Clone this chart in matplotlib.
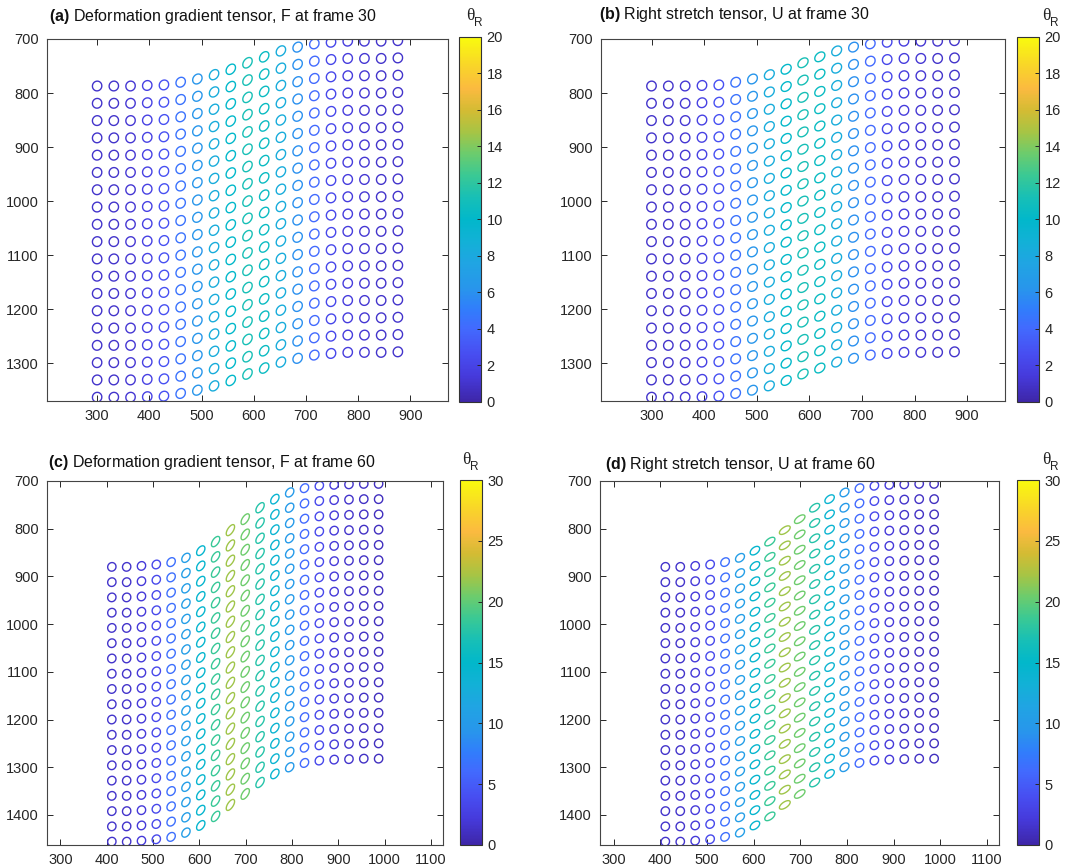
import numpy as np
import matplotlib
matplotlib.use('Agg')
import matplotlib.pyplot as plt
from matplotlib.collections import LineCollection
from matplotlib.colors import LinearSegmentedColormap, Normalize
from matplotlib.cm import ScalarMappable

plt.rcParams['font.family'] = 'Liberation Sans'
plt.rcParams['mathtext.fontset'] = 'custom'
plt.rcParams['mathtext.rm'] = 'Liberation Sans'
plt.rcParams['mathtext.bf'] = 'Liberation Sans:bold'

# grid points (one entry per column of markers), frame 30
col_x_30 = [300, 332, 364, 396, 428, 460, 492, 524, 556, 588, 620, 652, 684, 716, 748, 780, 812, 844, 876]
col_top_30 = [787, 787, 787, 786, 785, 780, 774, 766, 756, 744, 733, 722, 715, 709, 706, 704, 704, 704, 703]
theta_30 = [1.0, 1.0, 1.2, 1.8, 2.8, 4.5, 6.3, 8.3, 10.0, 11.2, 10.5, 8.3, 6.0, 4.0, 2.2, 1.5, 1.2, 1.0, 1.0]

# frame 60
col_x_60 = [411, 443, 475, 507, 539, 571, 603, 635, 667, 699, 731, 763, 795, 827, 859, 891, 923, 955, 987]
col_top_60 = [880, 880, 878, 875, 870, 861, 846, 827, 803, 780, 756, 738, 724, 715, 710, 708, 707, 706, 706]
theta_60 = [1.5, 1.5, 2.0, 3.5, 6.5, 10.5, 14.5, 18.5, 22.0, 20.5, 17.5, 14.0, 10.0, 6.0, 3.5, 2.0, 1.5, 1.2, 1.0]

n_rows = 19
row_step = 32
radius = 9

parula = LinearSegmentedColormap.from_list('parula', [
    (0.00, (0.2422, 0.1504, 0.6603)),
    (0.07, (0.2740, 0.2280, 0.8612)),
    (0.13, (0.2814, 0.3040, 0.9441)),
    (0.20, (0.2591, 0.4145, 0.9955)),
    (0.25, (0.1950, 0.4861, 0.9887)),
    (0.31, (0.1573, 0.5854, 0.9254)),
    (0.38, (0.1253, 0.6453, 0.8887)),
    (0.44, (0.0713, 0.6938, 0.8409)),
    (0.50, (0.0046, 0.7192, 0.7941)),
    (0.56, (0.0899, 0.7489, 0.7156)),
    (0.62, (0.2244, 0.7869, 0.5836)),
    (0.68, (0.4200, 0.8000, 0.4300)),
    (0.74, (0.6500, 0.7700, 0.2700)),
    (0.80, (0.8300, 0.7350, 0.2000)),
    (0.86, (0.9850, 0.7300, 0.2500)),
    (0.92, (0.9750, 0.8300, 0.1650)),
    (1.00, (0.9763, 0.9831, 0.0538)),
])


def ellipses(col_x, col_top, theta, stretch):
    t = np.linspace(0, 2 * np.pi, 49)
    circ = np.vstack([np.cos(t), np.sin(t)]) * radius
    segs, vals = [], []
    for x, top, th in zip(col_x, col_top, theta):
        g = 2 * np.tan(np.radians(th))
        F = np.array([[1.0, 0.0], [-g, 1.0]])
        if stretch:
            w, v = np.linalg.eigh(F.T @ F)
            M = v @ np.diag(np.sqrt(w)) @ v.T
        else:
            M = F
        shape = (M @ circ).T
        for k in range(n_rows):
            segs.append(shape + [x, top + k * row_step])
            vals.append(th)
    return segs, np.array(vals)


def panel(ax_rect, cb_rect, col_x, col_top, theta, stretch, vmax, xlim, ylim, xticks, yticks, cticks):
    ax = fig.add_axes(ax_rect)
    norm = Normalize(0, vmax)
    segs, vals = ellipses(col_x, col_top, theta, stretch)
    lc = LineCollection(segs, colors=parula(norm(vals)), linewidths=1.0)
    ax.add_collection(lc)
    ax.set_xlim(*xlim)
    ax.set_ylim(*ylim)
    ax.set_xticks(xticks)
    ax.set_yticks(yticks)
    ax.tick_params(direction='in', top=True, right=True, length=4, width=0.7,
                   labelsize=10.5, colors='#262626', pad=6)
    for s in ax.spines.values():
        s.set_color('#444444')
        s.set_linewidth(0.8)
    cax = fig.add_axes(cb_rect)
    cb = fig.colorbar(ScalarMappable(norm=norm, cmap=parula), cax=cax)
    cb.set_ticks(cticks)
    cax.tick_params(direction='in', length=3, width=0.7, labelsize=10.5, colors='#262626', pad=4)
    cb.outline.set_linewidth(0.8)
    cb.outline.set_edgecolor('#333333')
    return ax


W, H = 1076, 868
fig = plt.figure(figsize=(W / 100, H / 100), dpi=100)


def rect(l, t, r, b):
    return [l / W, 1 - b / H, (r - l) / W, (b - t) / H]


panel(rect(47, 39, 448, 401), rect(459, 37, 481, 402), col_x_30, col_top_30, theta_30, False, 20,
      (204, 972), (1370, 700), range(300, 901, 100), range(700, 1301, 100), range(0, 21, 2))
panel(rect(601, 39, 1005, 401), rect(1017, 37, 1039, 402), col_x_30, col_top_30, theta_30, True, 20,
      (204, 972), (1370, 700), range(300, 901, 100), range(700, 1301, 100), range(0, 21, 2))
panel(rect(47, 481, 443, 845), rect(460, 480, 482, 845), col_x_60, col_top_60, theta_60, False, 30,
      (271, 1126), (1463, 700), range(300, 1101, 100), range(700, 1401, 100), range(0, 31, 5))
panel(rect(600, 481, 999, 845), rect(1017, 480, 1039, 845), col_x_60, col_top_60, theta_60, True, 30,
      (271, 1126), (1463, 700), range(300, 1101, 100), range(700, 1401, 100), range(0, 31, 5))

titles = [
    (49, 16, r'$\mathbf{(a)}$ Deformation gradient tensor, F at frame 30'),
    (599, 15, r'$\mathbf{(b)}$ Right stretch tensor, U at frame 30'),
    (48, 462, r'$\mathbf{(c)}$ Deformation gradient tensor, F at frame 60'),
    (605, 464, r'$\mathbf{(d)}$ Right stretch tensor, U at frame 60'),
]
for x, y, s in titles:
    fig.text(x / W, 1 - y / H, s, fontsize=11.5, va='center', ha='left', color='#111111')

for x, y in [(470, 16), (1046, 16), (466, 460), (1046, 460)]:
    fig.text(x / W, 1 - y / H, '\u03b8', family='Liberation Serif', fontsize=12.5,
             va='center', ha='center', color='#222222')
    fig.text((x + 8) / W, 1 - (y + 7) / H, 'R', fontsize=8.5, va='center', ha='center', color='#222222')

fig.savefig('out.png', dpi=100)
